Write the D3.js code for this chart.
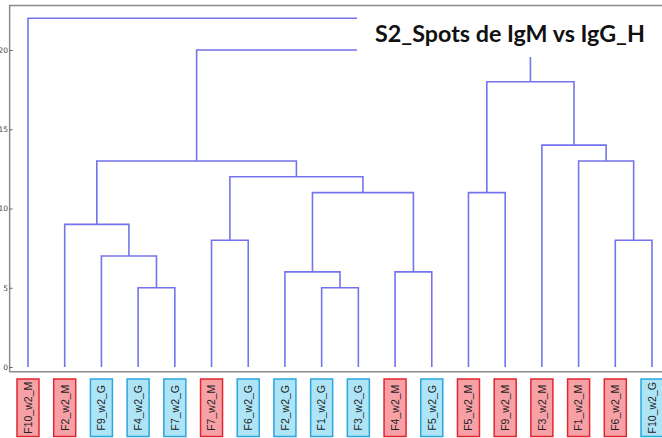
<!DOCTYPE html>
<html>
<head>
<meta charset="utf-8">
<script src="https://cdn.jsdelivr.net/npm/d3@7/dist/d3.min.js"></script>
<style>
  html, body { margin: 0; padding: 0; background: #fff; }
  svg { display: block; }
</style>
</head>
<body>
<svg id="chart" width="662" height="438"></svg>
<script>
// ---- data ----
const leafLabels = ["F10_w2_M","F2_w2_M","F9_w2_G","F4_w2_G","F7_w2_G","F7_w2_M","F6_w2_G","F2_w2_G","F1_w2_G",
                    "F3_w2_G","F4_w2_M","F5_w2_G","F5_w2_M","F9_w2_M","F3_w2_M","F1_w2_M","F6_w2_M","F10_w2_G"];
const leafGroups = ["M","M","G","G","G","M","G","G","G","G","M","G","M","M","M","M","M","G"];
// linkage: [left id, right id, height]; ids 0..17 are leaves, 18+ are merged clusters in order
const linkLeft   = [3, 2, 1, 8, 7, 10, 22, 5, 25, 20, 12, 16, 15, 14, 28, 27, 0];
const linkRight  = [4, 18, 19, 9, 21, 11, 23, 6, 24, 26, 13, 17, 29, 30, 31, 32, 33];
const linkHeight = [5, 7, 9, 5, 6, 6, 11, 8, 12, 13, 11, 8, 13, 14, 18, 20, 22];
const yTicks = [0, 5, 10, 15, 20];
const title = "S2_Spots de IgM vs IgG_H";

// ---- layout ----
const W = 662, H = 438;
const svg = d3.select("#chart");
const n = leafLabels.length;
const x = d3.scaleLinear().domain([0, n * 10]).range([9.65, 9.65 + n * 10 * 3.6706]);
const y = d3.scaleLinear().domain([0, 20]).range([367, 50]);
const yMinDom = -0.3, yMaxDom = 22.8;
const lineColor = "#7373ec";

// compute node positions
const nodeX = leafLabels.map((d, i) => x(5 + 10 * i));
const nodeH = leafLabels.map(() => 0);
const links = [];
linkLeft.forEach((l, k) => {
  const r = linkRight[k], h = linkHeight[k];
  links.push({x1: nodeX[l], h1: nodeH[l], x2: nodeX[r], h2: nodeH[r], h: h});
  nodeX.push((nodeX[l] + nodeX[r]) / 2);
  nodeH.push(h);
});

const clipLeft = x(0), clipRight = W + 20;
svg.append("defs").append("clipPath").attr("id", "plotclip")
  .append("rect").attr("x", clipLeft).attr("y", y(yMaxDom))
  .attr("width", clipRight - clipLeft).attr("height", y(yMinDom) - y(yMaxDom));

const g = svg.append("g").attr("clip-path", "url(#plotclip)");
g.selectAll("path.link").data(links).enter().append("path")
  .attr("class", "link")
  .attr("d", d => `M${d.x1},${y(d.h1)}V${y(d.h)}H${d.x2}V${y(d.h2)}`)
  .attr("fill", "none")
  .attr("stroke", lineColor)
  .attr("stroke-width", 1.6);

// title box (white background covering the top of the tree)
const tb = svg.append("g");
tb.append("rect").attr("x", 357).attr("y", 9).attr("width", W - 357 + 20).attr("height", 48).attr("fill", "#fff");
const tt = tb.append("text").attr("x", 510).attr("y", 41.5)
  .attr("text-anchor", "middle")
  .attr("font-family", "Lato, 'Open Sans', sans-serif")
  .attr("font-weight", "bold")
  .attr("font-size", 22)
  .attr("fill", "#111")
  .text(title);
const tw = tt.node().getComputedTextLength();
tt.attr("font-size", 22 * 270 / tw);

// spines
const spine = svg.append("g").attr("stroke", "#8a8a8a").attr("stroke-width", 1.5).attr("fill", "none");
spine.append("path").attr("d", `M${clipLeft},${y(yMinDom)}V${y(yMaxDom)}H${W + 5}`);
spine.append("path").attr("d", `M${clipLeft},${y(yMinDom)}H${W + 5}`);

// y axis
const yAxis = d3.axisLeft(y).tickValues(yTicks).tickSize(-3).tickPadding(4).tickFormat(d3.format("d"));
const ya = svg.append("g").attr("transform", `translate(${clipLeft},0)`).call(yAxis);
ya.select(".domain").remove();
ya.selectAll(".tick line").attr("stroke", "#666");
ya.selectAll(".tick text").attr("font-size", 7.5).attr("font-family", "'DejaVu Sans', sans-serif")
  .attr("fill", "#444").attr("x", -1.5);

// leaf label boxes
const colors = {
  M: {fill: "#f7a1a6", stroke: "#e2262f"},
  G: {fill: "#aee5f6", stroke: "#2ba6df"}
};
const boxW = 22, boxTop = 379, boxBot = 436.5;
const leaves = svg.append("g").selectAll("g").data(leafLabels).enter().append("g")
  .attr("transform", (d, i) => `translate(${x(5 + 10 * i)},0)`);
leaves.append("rect")
  .attr("x", -boxW / 2).attr("y", boxTop)
  .attr("width", boxW).attr("height", boxBot - boxTop)
  .attr("fill", (d, i) => colors[leafGroups[i]].fill)
  .attr("stroke", (d, i) => colors[leafGroups[i]].stroke)
  .attr("stroke-width", 1.5);
leaves.append("text")
  .attr("transform", `translate(3.8,${(boxTop + boxBot) / 2}) rotate(-90)`)
  .attr("text-anchor", "middle")
  .attr("font-family", "'Liberation Sans', Arial, sans-serif")
  .attr("font-size", 10.5)
  .attr("fill", "#222")
  .text(d => d);
</script>
</body>
</html>
